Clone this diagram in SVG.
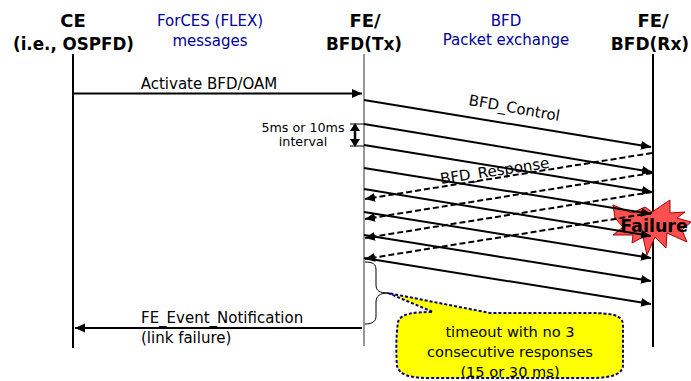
<svg xmlns="http://www.w3.org/2000/svg" width="691" height="381" viewBox="0 0 691 381">
<style>
text{font-family:"DejaVu Sans",sans-serif;fill:#000}
.h{font-weight:bold;font-size:18px;text-anchor:middle}
.b{font-size:15px;fill:#000099;text-anchor:middle}
.l{font-size:15px}
.s{font-size:12.7px;text-anchor:middle}
.a{stroke:#000;stroke-width:2;fill:none;marker-end:url(#ah)}
.d{stroke:#000;stroke-width:2;fill:none;stroke-dasharray:6 3;marker-end:url(#ah)}
</style>
<defs><marker id="ah" markerUnits="userSpaceOnUse" markerWidth="12" markerHeight="10" refX="10" refY="5" orient="auto"><path d="M0 0.5L10 5L0 9.5Z" fill="#000"/></marker></defs>
<g id="ce"><text class="h" x="73" y="27">CE</text><text class="h" x="73.5" y="50" textLength="121" lengthAdjust="spacingAndGlyphs">(i.e., OSPFD)</text><path d="M73 54V348" stroke="#000" stroke-width="2"/></g>
<g id="fe-tx"><text class="h" x="365" y="27">FE/</text><text class="h" x="364" y="50" textLength="76" lengthAdjust="spacingAndGlyphs">BFD(Tx)</text><path d="M364 54V346" stroke="#777" stroke-width="1.5"/></g>
<g id="fe-rx"><text class="h" x="653" y="27">FE/</text><text class="h" x="650" y="50" style="font-size:17px">BFD(Rx)</text><path d="M653 54V347" stroke="#000" stroke-width="2"/></g>
<g id="head-labels"><text class="b" x="210" y="26">ForCES (FLEX)</text><text class="b" x="210" y="46">messages</text><text class="b" x="506" y="26">BFD</text><text class="b" x="506" y="45">Packet exchange</text></g>
<g id="failure-star"><path d="M613 205L632 213L645 207L652 212L670 200L670 213L685 212L677 218L691 222L682 230L687 242L667 233L666 248L655 237L647 255L643 237L632 243L633 235L613 235L623 227L615 218Z" fill="#ff5050" stroke="#a00" stroke-width="1"/></g>
<g id="connectors">
<path class="a" d="M73 93.500H362"/>
<path class="a" d="M364 100L651 147"/><path class="a" d="M364 124L652 172"/><path class="a" d="M364 145L652 192"/><path class="a" d="M364 168L651 214"/><path class="a" d="M364 189L651 236"/><path class="a" d="M364 212L651 258"/><path class="a" d="M364 235L651 281"/><path class="a" d="M364 258L651 304"/>
<path class="d" d="M652 153L365 199"/><path class="d" d="M652 173L365 219"/><path class="d" d="M652 192L365 238"/><path class="d" d="M652 213L365 259"/>
<path class="a" d="M362 328H75"/>
<path d="M350 124H364M350 146H364" stroke="#000" stroke-width="1"/>
<path d="M355 125V145" stroke="#000" stroke-width="2.500"/><path d="M355 123L350 131H360ZM355 147L350 139H360Z" fill="#000"/>
<path d="M365 262C373 262 376 264 376 270V285C376 291 380 293 388 293C380 293 376 296 376 302V316C376 321 373 324 365 324" fill="none" stroke="#000"/>
</g>
<g id="labels"><text class="l" x="209" y="89" text-anchor="middle">Activate BFD/OAM</text>
<text class="s" x="303" y="132">5ms or 10ms</text><text class="s" x="303" y="146">interval</text>
<text class="l" transform="translate(468 105) rotate(10)">BFD_Control</text>
<text class="l" transform="translate(441 184) rotate(-8.500)">BFD_Response</text>
<text class="l" x="141" y="323">FE_Event_Notification</text><text class="l" x="141" y="343">(link failure)</text>
<text x="654" y="232" font-size="17.500" font-weight="bold" text-anchor="middle">Failure</text></g>
<g id="callout"><path d="M388 293L433 312C415 312 401 313 398 322C396 335 396 355 397 366C400 376 412 378 430 378H592C612 378 622 374 623 366V324C622 315 612 313 590 313H490Z" fill="#ffff00" stroke="#000080" stroke-width="2" stroke-dasharray="3 2"/>
<g text-anchor="middle" font-size="14.600"><text x="510" y="337">timeout with no 3</text><text x="510" y="357">consecutive responses</text><text x="510" y="377">(15 or 30 ms)</text></g></g>
</svg>
